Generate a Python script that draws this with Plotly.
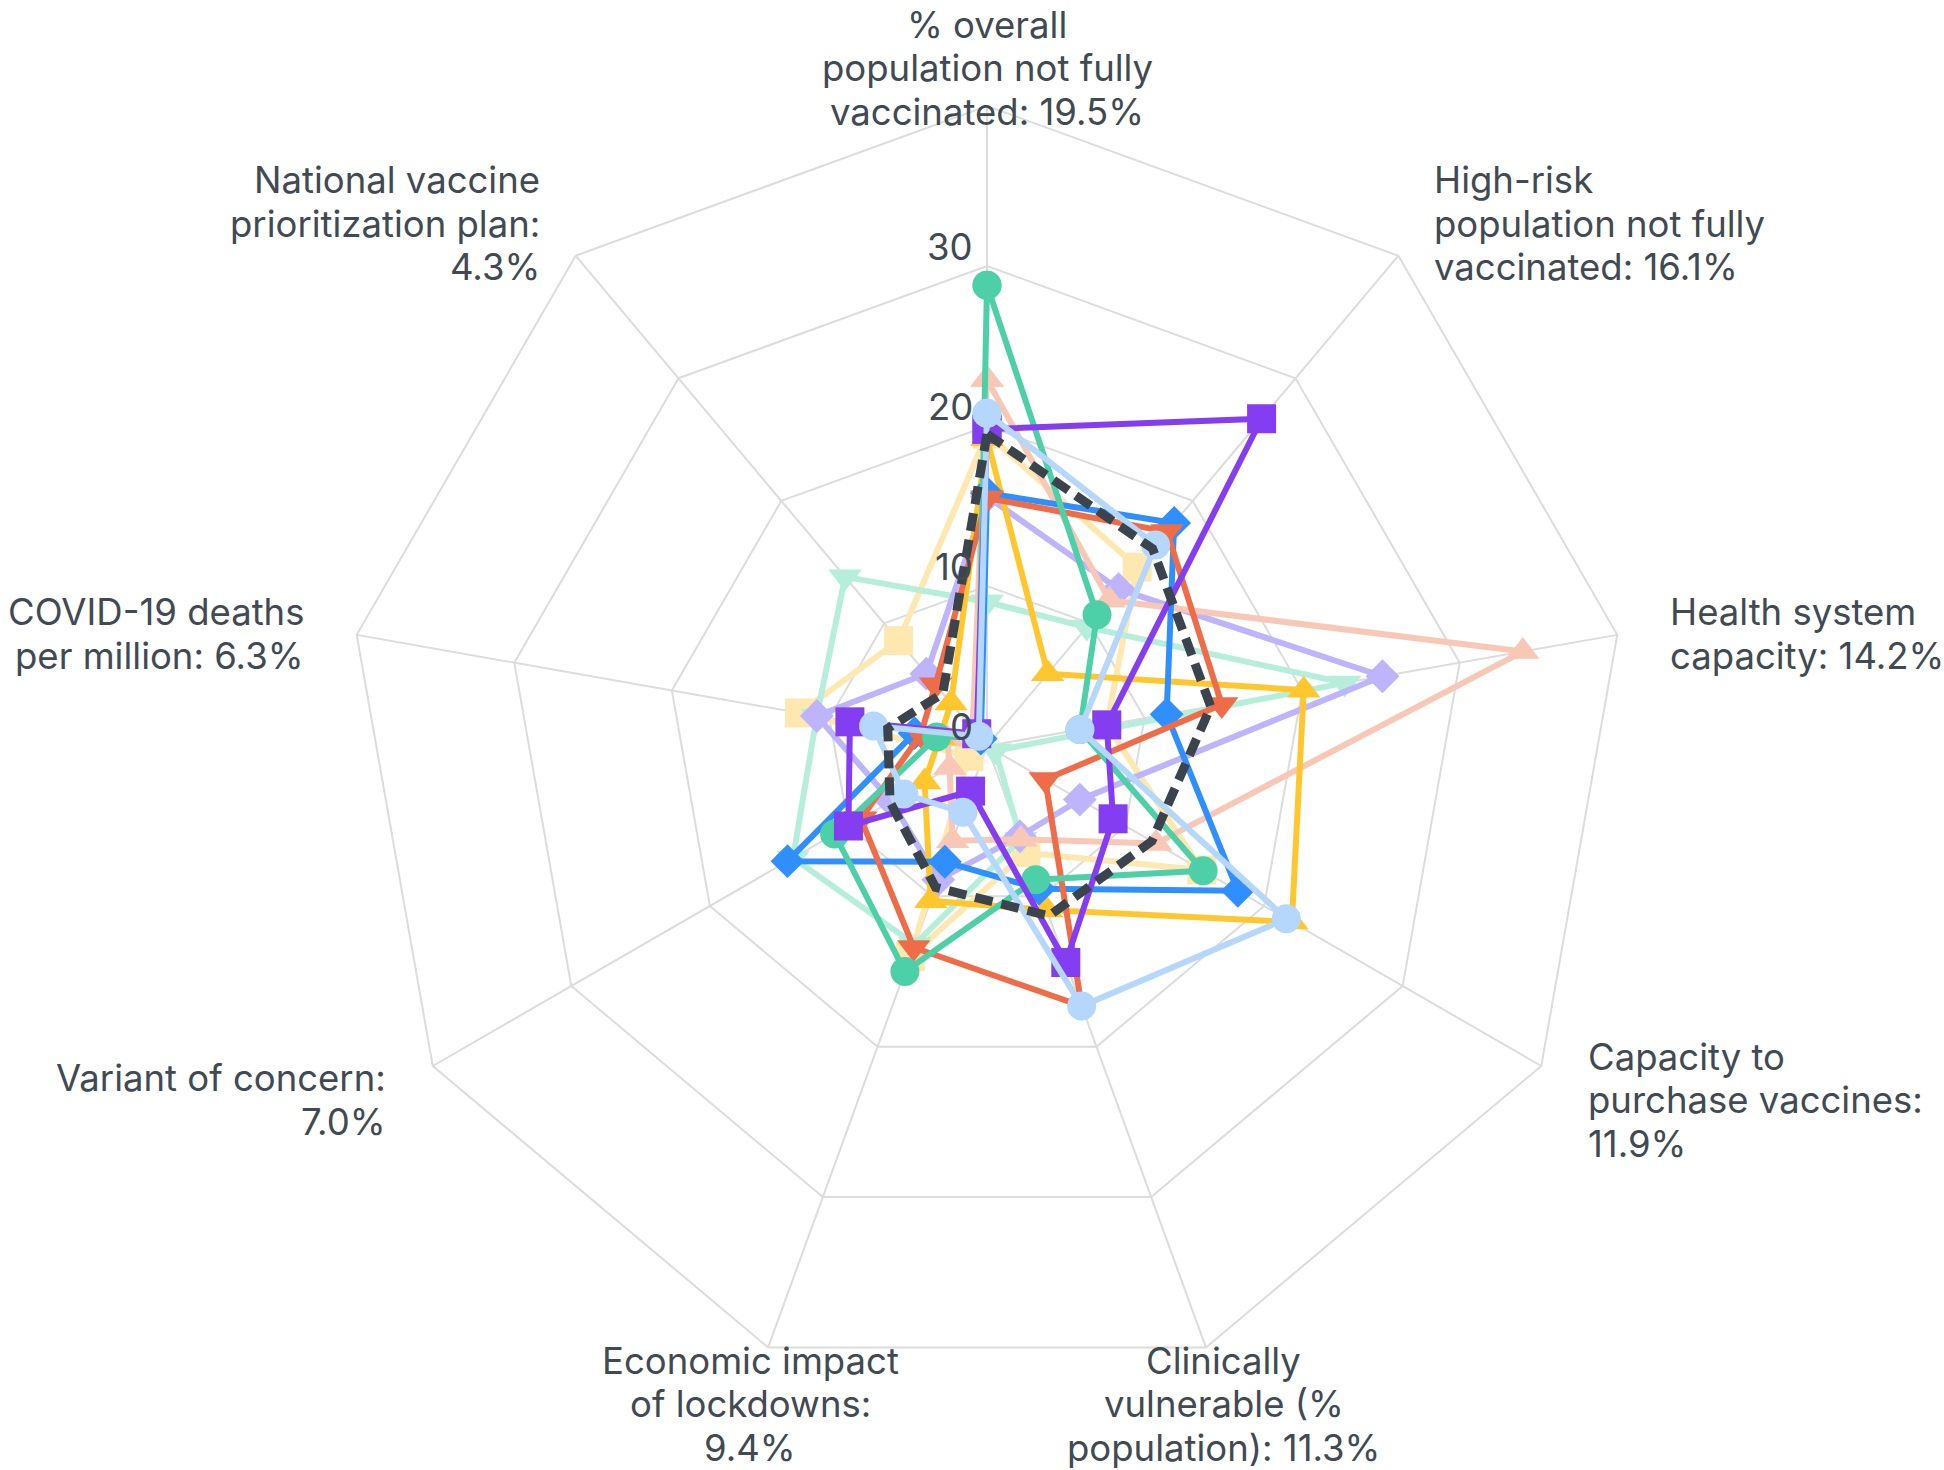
import math
import plotly.graph_objects as go

categories = [
    "% overall<br>population not fully<br>vaccinated: 19.5%",
    "High-risk<br>population not fully<br>vaccinated: 16.1%",
    "Health system<br>capacity: 14.2%",
    "Capacity to<br>purchase vaccines:<br>11.9%",
    "Clinically<br>vulnerable (%<br>population): 11.3%",
    "Economic impact<br>of lockdowns:<br>9.4%",
    "Variant of concern:<br>7.0%",
    "COVID-19 deaths<br>per million: 6.3%",
    "National vaccine<br>prioritization plan:<br>4.3%",
]
radial_ticks = [0, 10, 20, 30]
radial_max = 40

light_yellow = [19.5, 14.6, 7.6, 15.5, 7.1, 14.0, 1.3, 11.9, 8.6]
mint = [9.0, 9.7, 22.7, 0.6, 6.2, 13.2, 14.0, 10.8, 13.8]
lavender = [15.6, 12.8, 25.1, 6.7, 6.0, 8.9, 6.9, 10.8, 5.9]
pink = [22.9, 11.9, 34.0, 12.2, 6.2, 6.3, 2.7, 2.5, 1.4]
yellow = [19.2, 5.9, 20.1, 22.0, 10.9, 10.3, 4.5, 3.0, 3.5]
blue = [15.8, 18.2, 11.4, 18.1, 9.5, 7.7, 14.4, 4.6, 0.6]
red = [15.5, 17.5, 14.9, 4.2, 17.3, 13.4, 9.1, 4.2, 5.0]
green = [28.8, 10.7, 5.9, 15.6, 8.9, 15.0, 11.0, 3.2, 0.9]
purple = [19.8, 26.7, 7.6, 9.1, 14.4, 3.0, 10.0, 8.7, 1.0]
light_blue = [20.8, 16.4, 5.9, 21.6, 17.3, 4.4, 6.0, 7.2, 0.8]
weights = [19.5, 16.1, 14.2, 11.9, 11.3, 9.4, 7.0, 6.3, 4.3]

series = [
    (light_yellow, "#FFE8B0", "square", 29),
    (mint, "#B6EEDC", "triangle-down", 29),
    (lavender, "#BDB4FB", "diamond", 26),
    (pink, "#F8C7B6", "triangle-up", 29),
    (yellow, "#FFC62E", "triangle-up", 29),
    (blue, "#2F8FFF", "diamond", 26),
    (red, "#EE6C48", "triangle-down", 29),
    (green, "#4DD0A8", "circle", 29),
    (purple, "#843DF1", "square", 29),
    (light_blue, "#B4D7FB", "circle", 29),
]

W, H = 1944, 1470
ML, MR, MT, MB = 130, 100, 106, 84
text_color = "#414a53"
grid = "#dcdcdc"
FONT = "Inter, sans-serif"
FS = 36.5
LINE_H = 43.5

fig = go.Figure()
theta = categories + categories[:1]
for vals, color, sym, msize in series:
    fig.add_trace(go.Scatterpolar(
        r=vals + vals[:1], theta=theta, mode="lines+markers",
        line=dict(color=color, width=6),
        marker=dict(color=color, symbol=sym, size=msize),
        showlegend=False, hoverinfo="skip",
    ))

fig.add_trace(go.Scatterpolar(
    r=weights + weights[:1], theta=theta, mode="lines",
    line=dict(color="#3B444D", width=9, dash="18px,9px"),
    showlegend=False, hoverinfo="skip",
))

# text placement derived from the polar geometry
pw, ph = W - ML - MR, H - MT - MB
R = min(pw, ph) / 2
cx, cy = ML + pw / 2, MT + ph / 2
unit = R / radial_max


def to_paper(px, py):
    return (px - ML) / pw, 1 - (py - MT) / ph


annotations = []
gap = 52
n = len(categories)
min_top = FS * 0.68  # keep the first line's text box inside the page
for k, cat in enumerate(categories):
    a = math.radians(90 - 360 / n * k)
    c, s = math.cos(a), math.sin(a)
    px = cx + (R + gap) * c
    py = cy - (R + gap) * s + 8
    if c > 0.5:
        xa = "left"
    elif c < -0.5:
        xa = "right"
    else:
        xa = "center"
    lines = cat.split("<br>")
    first = py - (len(lines) - 1) / 2 * LINE_H
    if first < min_top:
        py += min_top - first
    for i, line in enumerate(lines):
        ly = py + (i - (len(lines) - 1) / 2) * LINE_H
        x, y = to_paper(px, ly)
        annotations.append(dict(
            x=x, y=y, xref="paper", yref="paper", text=line, showarrow=False,
            xanchor=xa, yanchor="middle", align=xa,
            font=dict(family=FONT, size=FS, color=text_color),
        ))

# radial tick labels, to the upper-left of each ring vertex on the vertical axis
for t in radial_ticks:
    x, y = to_paper(cx - 12, cy - t * unit - 19)
    annotations.append(dict(
        x=x, y=y, xref="paper", yref="paper", text=str(t), showarrow=False,
        xanchor="right", yanchor="middle",
        font=dict(family=FONT, size=FS, color=text_color),
    ))

fig.update_layout(
    width=W, height=H,
    margin=dict(l=ML, r=MR, t=MT, b=MB),
    paper_bgcolor="white",
    font=dict(family=FONT, size=FS, color=text_color),
    annotations=annotations,
    polar=dict(
        bgcolor="white",
        gridshape="linear",
        radialaxis=dict(
            range=[0, radial_max], tickvals=radial_ticks, angle=90,
            showticklabels=False, showline=False, ticks="",
            gridcolor=grid, gridwidth=2,
        ),
        angularaxis=dict(
            rotation=90, direction="clockwise", ticks="", showticklabels=False,
            gridcolor=grid, gridwidth=2, linecolor=grid, linewidth=2,
        ),
    ),
)

fig.write_html(
    "out.html",
    config={"displayModeBar": False},
    post_script="document.body.style.margin='0';",
)
